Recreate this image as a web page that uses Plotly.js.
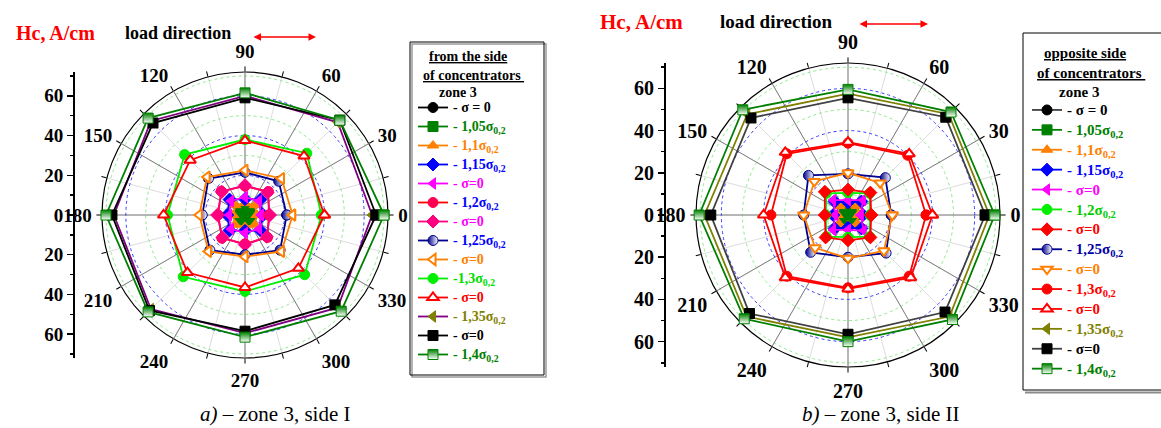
<!DOCTYPE html>
<html><head><meta charset="utf-8">
<script src="https://cdn.plot.ly/plotly-3.0.1.min.js"></script>
<style>body{margin:0;background:#fff}#chart{width:1161px;height:428px}</style>
</head><body><div id="chart"></div>
<script>
// ---------------- data ----------------
const angles = [0, 45, 90, 135, 180, 225, 270, 315];
const angleTicks = [0, 30, 60, 90, 120, 150, 180, 210, 240, 270, 300, 330];
const minorAngleTicks = [0,15,30,45,60,75,90,105,120,135,150,165,180,195,210,225,240,255,270,285,300,315,330,345];
const radialTickVals = [-60, -40, -20, 0, 20, 40, 60];
const radialTickText = ['60', '40', '20', '0', '20', '40', '60'];
const radialMinorVals = [-70, -50, -30, -10, 10, 30, 50, 70];

// side I (from the side of concentrators), r in A/cm at angles above
const sideI_s1 = [2, 2, 2, 2, 2, 2, 2, 2];
const sideI_s2 = [3, 4, 3, 4, 3, 4, 3, 4];
const sideI_s3 = [6, 7, 6, 7, 6, 7, 6, 7];
const sideI_s4 = [9, 11, 8, 11, 9, 11, 8, 11];
const sideI_s5 = [8, 10, 9, 10, 8, 10, 9, 10];
const sideI_s6 = [12, 16.7, 14.5, 17, 13.5, 16.5, 14.5, 16];
const sideI_s7 = [12.5, 16, 15, 16.5, 14, 16, 15, 15.5];
const sideI_s8 = [21, 24, 21.5, 26, 21.5, 25, 20, 25];
const sideI_s9 = [24, 26, 22.5, 27, 23, 26, 21, 26];
const sideI_s10 = [38.5, 44, 38, 43, 39, 44, 38.5, 42.5];
const sideI_s11 = [40, 42, 37.5, 39, 41, 41, 36.5, 38];
const sideI_s12 = [64, 66, 60, 67, 66, 67, 59.5, 66];
const sideI_s13 = [66, 67.5, 59, 65.5, 67, 68, 58.5, 64];
const sideI_s14 = [70, 67.5, 61.5, 69, 70, 69, 61.5, 68.5];

// side II (opposite side of concentrators)
const sideII_s1 = [2, 2, 2, 2, 2, 2, 2, 2];
const sideII_s2 = [3, 3.5, 3, 3.5, 3, 3.5, 3, 3.5];
const sideII_s3 = [5, 6, 5, 6, 5, 6, 5, 6];
const sideII_s4 = [7, 9, 6, 9, 7, 9, 6, 9];
const sideII_s5 = [6, 10, 7, 10, 6, 10, 7, 10.5];
const sideII_s6 = [10.5, 14.5, 10.5, 14.5, 10.5, 14.5, 10.5, 14.5];
const sideII_s7 = [11, 15, 12, 15.5, 11, 15, 12, 15];
const sideII_s8 = [20.5, 25, 19.5, 26.5, 21, 25, 20, 25.5];
const sideII_s9 = [21, 21.5, 20, 22.5, 21, 22, 20.5, 24];
const sideII_s10 = [37, 40, 34, 41, 36.5, 41, 34.5, 41];
const sideII_s11 = [40, 41, 34.5, 42, 40, 42, 35, 42];
const sideII_s12 = [67, 67.5, 57.5, 67.5, 68, 68, 58, 68];
const sideII_s13 = [65, 65.5, 55.5, 65, 65, 66, 56.5, 65];
const sideII_s14 = [69.5, 69, 59.5, 70.5, 70.5, 69.5, 60, 70];

const labelsI = ['- σ = 0', '- 1,05σ<sub>0,2</sub>', '- 1,1σ<sub>0,2</sub>', '- 1,15σ<sub>0,2</sub>', '- σ=0',
  '- 1,2σ<sub>0,2</sub>', '- σ=0', '- 1,25σ<sub>0,2</sub>', '- σ=0', '-1,3σ<sub>0,2</sub>', '- σ=0',
  '- 1,35σ<sub>0,2</sub>', '- σ=0', '- 1,4σ<sub>0,2</sub>'];
const labelsII = ['- σ = 0', '- 1,05σ<sub>0,2</sub>', '- 1,1σ<sub>0,2</sub>', '- 1,15σ<sub>0,2</sub>', '- σ=0',
  '- 1,2σ<sub>0,2</sub>', '- σ=0', '- 1,25σ<sub>0,2</sub>', '- σ=0', '- 1,3σ<sub>0,2</sub>', '- σ=0',
  '- 1,35σ<sub>0,2</sub>', '- σ=0', '- 1,4σ<sub>0,2</sub>'];

const seriesI = [sideI_s1, sideI_s2, sideI_s3, sideI_s4, sideI_s5, sideI_s6, sideI_s7, sideI_s8, sideI_s9, sideI_s10, sideI_s11, sideI_s12, sideI_s13, sideI_s14];
const seriesII = [sideII_s1, sideII_s2, sideII_s3, sideII_s4, sideII_s5, sideII_s6, sideII_s7, sideII_s8, sideII_s9, sideII_s10, sideII_s11, sideII_s12, sideII_s13, sideII_s14];

// ---------------- styles ----------------
const stylesI = [
  {sym: 'circle', col: '#000000', line: '#000000', txt: '#000000'},
  {sym: 'square', col: '#008000', line: '#008000', txt: '#008000'},
  {sym: 'triangle-up', col: '#FF8000', line: '#FF8000', txt: '#FF8000'},
  {sym: 'diamond', col: '#0000FF', line: '#0000FF', txt: '#0000FF'},
  {sym: 'triangle-left', col: '#FF00FF', line: '#FF00FF', txt: '#FF00FF'},
  {sym: 'circle', col: '#FF0050', line: '#FF0000', txt: '#0000FF'},
  {sym: 'diamond', col: '#FF0080', line: '#FF0080', txt: '#FF00FF'},
  {sym: 'circle', col: '#00008B', line: '#00008B', txt: '#0000FF', grad: 'horizontal'},
  {sym: 'triangle-left', col: '#FF8000', line: '#FF8000', txt: '#FF8000', open: true},
  {sym: 'circle', col: '#00EE00', line: '#00EE00', txt: '#00DD00'},
  {sym: 'triangle-up', col: '#FF0000', line: '#FF0000', txt: '#FF0000', open: true},
  {sym: 'triangle-left', col: '#808000', line: '#800080', txt: '#808000'},
  {sym: 'square', col: '#000000', line: '#000000', txt: '#000000'},
  {sym: 'square', col: '#008000', line: '#008000', txt: '#008000', grad: 'vertical'}
];
const stylesII = [
  {sym: 'circle', col: '#000000', line: '#404040', txt: '#000000'},
  {sym: 'square', col: '#008000', line: '#008000', txt: '#008000'},
  {sym: 'triangle-up', col: '#FF8000', line: '#FF8000', txt: '#FF8000'},
  {sym: 'diamond', col: '#0000FF', line: '#0000FF', txt: '#0000FF'},
  {sym: 'triangle-left', col: '#FF00FF', line: '#FF00FF', txt: '#FF00FF'},
  {sym: 'circle', col: '#00EE00', line: '#00EE00', txt: '#00CC00'},
  {sym: 'diamond', col: '#FF0000', line: '#FF0000', txt: '#FF0000'},
  {sym: 'circle', col: '#00008B', line: '#00008B', txt: '#0000AA', grad: 'horizontal'},
  {sym: 'triangle-down', col: '#FF8000', line: '#FF8000', txt: '#FF8000', open: true},
  {sym: 'circle', col: '#FF0000', line: '#FF0000', txt: '#FF0000'},
  {sym: 'triangle-up', col: '#FF0000', line: '#FF0000', txt: '#FF0000', open: true},
  {sym: 'triangle-left', col: '#808000', line: '#808000', txt: '#808000'},
  {sym: 'square', col: '#000000', line: '#404040', txt: '#000000'},
  {sym: 'square', col: '#008000', line: '#008000', txt: '#008000', grad: 'vertical'}
];

const W = 1161, H = 428;
const px = x => x / W;
const py = y => 1 - y / H;
const SERIF = 'Liberation Serif, Times New Roman, serif';
const close = a => a.concat([a[0]]);

function makeTrace(r, st, label, subplot, legend, fs) {
  const marker = {symbol: st.sym, size: 10, color: st.col, line: {color: st.col, width: 1}};
  if (st.open) { marker.color = '#FFFFFF'; marker.line = {color: st.col, width: 2}; }
  if (st.grad) { marker.gradient = {type: st.grad, color: '#FFFFFF'}; }
  return {
    type: 'scatterpolar', subplot: subplot, legend: legend,
    r: close(r), theta: close(angles), mode: 'lines+markers',
    name: '<span style="color:' + st.txt + ';font-size:' + fs + 'px">' + label + '</span>',
    line: {color: st.line, width: 1.8}, marker: marker, hoverinfo: 'skip'
  };
}

const data = [];
// invisible anchor points so the base polar subplots and cartesian axes are drawn
data.push({type: 'scatterpolar', subplot: 'polar', r: [0], theta: [0], mode: 'markers', marker: {opacity: 0}, showlegend: false, hoverinfo: 'skip'});
data.push({type: 'scatterpolar', subplot: 'polar3', r: [0], theta: [0], mode: 'markers', marker: {opacity: 0}, showlegend: false, hoverinfo: 'skip'});
data.push({type: 'scatter', x: [0], y: [0], xaxis: 'x', yaxis: 'y', mode: 'markers', marker: {opacity: 0}, showlegend: false, hoverinfo: 'skip'});
data.push({type: 'scatter', x: [0], y: [0], xaxis: 'x2', yaxis: 'y2', mode: 'markers', marker: {opacity: 0}, showlegend: false, hoverinfo: 'skip'});

seriesI.forEach((r, i) => data.push(makeTrace(r, stylesI[i], labelsI[i], 'polar2', 'legend', 14)));
seriesII.forEach((r, i) => data.push(makeTrace(r, stylesII[i], labelsII[i], 'polar4', 'legend2', 15)));

// geometry (pixels)
const domL = {x: [px(102), px(388)], y: [70 / H, 356 / H]};
const domR = {x: [px(696), px(1000)], y: [61 / H, 365 / H]};

function basePolar(dom) {
  return {
    domain: {x: dom.x, y: dom.y}, bgcolor: '#FFFFFF',
    radialaxis: {range: [0, 72], tickmode: 'array', tickvals: [10, 30, 50, 70], showgrid: true,
      gridcolor: '#8FEA8F', griddash: 'dot', gridwidth: 1, showline: false, showticklabels: false, ticks: ''},
    angularaxis: {tickmode: 'array', tickvals: minorAngleTicks, showgrid: true, gridcolor: '#DDDDDD', gridwidth: 1,
      showline: true, linecolor: '#000000', linewidth: 1.2, ticks: 'outside', ticklen: 5, tickcolor: '#000000',
      showticklabels: false, direction: 'counterclockwise', rotation: 0}
  };
}
function overPolar(dom, fs) {
  return {
    domain: {x: dom.x, y: dom.y}, bgcolor: 'rgba(0,0,0,0)',
    radialaxis: {range: [0, 72], tickmode: 'array', tickvals: [20, 40, 60], showgrid: true,
      gridcolor: '#3A3AFF', griddash: 'dot', gridwidth: 1, showline: false, showticklabels: false, ticks: ''},
    angularaxis: {tickmode: 'array', tickvals: angleTicks, ticktext: angleTicks.map(String), showgrid: true,
      gridcolor: '#7F7F7F', gridwidth: 1, showline: false, ticks: 'outside', ticklen: 6, tickcolor: 'rgba(0,0,0,0)',
      tickfont: {family: SERIF, size: fs, weight: 'bold', color: '#000000'},
      direction: 'counterclockwise', rotation: 0}
  };
}
function radAxis(dom, pos, fs) {
  return {
    anchor: 'free', position: pos, domain: dom.y, range: [-72, 72], tickmode: 'array',
    tickvals: radialTickVals, ticktext: radialTickText, showline: true, linecolor: '#000000', linewidth: 1.5,
    ticks: 'outside', ticklen: 6, tickwidth: 1.5, tickcolor: '#000000', showgrid: false, zeroline: false,
    tickfont: {family: SERIF, size: fs, weight: 'bold', color: '#000000'},
    minor: {tickmode: 'array', tickvals: radialMinorVals, ticks: 'outside', ticklen: 3, tickcolor: '#000000', showgrid: false},
    fixedrange: true
  };
}

const ann = (x, y, text, size, color, extra) => Object.assign({xref: 'paper', yref: 'paper', x: px(x), y: py(y),
  text: text, showarrow: false, xanchor: 'center', yanchor: 'middle', font: {family: SERIF, size: size, color: color}}, extra || {});

const arrow = (x0, x1, y) => ({xref: 'paper', yref: 'paper', x: px(x1), y: py(y), ax: x0 - x1, ay: 0, axref: 'pixel', ayref: 'pixel',
  text: '', showarrow: true, arrowside: 'end+start', arrowhead: 2, arrowsize: 1, arrowwidth: 1.5, arrowcolor: '#FF0000'});

const layout = {
  width: W, height: H, margin: {l: 0, r: 0, t: 0, b: 0}, paper_bgcolor: '#FFFFFF', plot_bgcolor: 'rgba(0,0,0,0)',
  showlegend: true,
  polar: basePolar(domL), polar2: overPolar(domL, 19),
  polar3: basePolar(domR), polar4: overPolar(domR, 20),
  xaxis: {domain: [0, 0.01], visible: false, fixedrange: true, anchor: 'y'},
  yaxis: radAxis(domL, px(73), 19),
  xaxis2: {domain: [0.5, 0.51], visible: false, fixedrange: true, anchor: 'y2'},
  yaxis2: radAxis(domR, px(664), 20),
  legend: {x: px(413), y: py(93), xanchor: 'left', yanchor: 'top', bgcolor: 'rgba(0,0,0,0)', borderwidth: 0,
    font: {family: SERIF, size: 12, weight: 'bold', color: '#000000'}, itemwidth: 30, tracegroupgap: 0},
  legend2: {x: px(1027), y: py(95), xanchor: 'left', yanchor: 'top', bgcolor: 'rgba(0,0,0,0)', borderwidth: 0,
    font: {family: SERIF, size: 13, weight: 'bold', color: '#000000'}, itemwidth: 30, tracegroupgap: 0},
  annotations: [
    ann(55, 33, '<b>Hc, A/cm</b>', 20, '#FF0000'),
    ann(178, 33, '<b>load direction</b>', 18, '#000000'),
    arrow(252, 316, 37),
    ann(642, 22, '<b>Hc, A/cm</b>', 21, '#FF0000'),
    ann(776, 22, '<b>load direction</b>', 19, '#000000'),
    arrow(858, 928, 24),
    ann(275, 414, '<i>a)</i> – zone 3, side I', 21, '#000000'),
    ann(880, 414, '<i>b)</i> – zone 3, side II', 21, '#000000'),
    ann(468, 57, '<b><u>from the side</u></b>', 14, '#000000'),
    ann(473, 75, '<b><u>of concentrators </u></b>', 14, '#000000'),
    ann(458, 92, '<b>zone 3</b>', 14, '#000000'),
    ann(1085, 53, '<b><u>opposite side</u></b>', 15, '#000000'),
    ann(1091, 73, '<b><u>of concentrators </u></b>', 15, '#000000'),
    ann(1079, 92, '<b>zone 3</b>', 15, '#000000')
  ],
  shapes: [
    {type: 'rect', xref: 'paper', yref: 'paper', x0: px(412), x1: px(546), y0: py(44), y1: py(377), line: {color: '#9A9A9A', width: 1.5}},
    {type: 'rect', xref: 'paper', yref: 'paper', x0: px(410), x1: px(544), y0: py(42), y1: py(375), fillcolor: 'rgba(0,0,0,0)', line: {color: '#000000', width: 1}},
    {type: 'line', xref: 'paper', yref: 'paper', x0: px(1025), x1: px(1161), y0: py(392.5), y1: py(392.5), line: {color: '#8A8A8A', width: 2}},
    {type: 'rect', xref: 'paper', yref: 'paper', x0: px(1023), x1: px(1170), y0: py(33), y1: py(390), fillcolor: 'rgba(0,0,0,0)', line: {color: '#000000', width: 1}}
  ]
};

Plotly.newPlot('chart', data, layout, {staticPlot: true, displayModeBar: false});
</script>
</body></html>
